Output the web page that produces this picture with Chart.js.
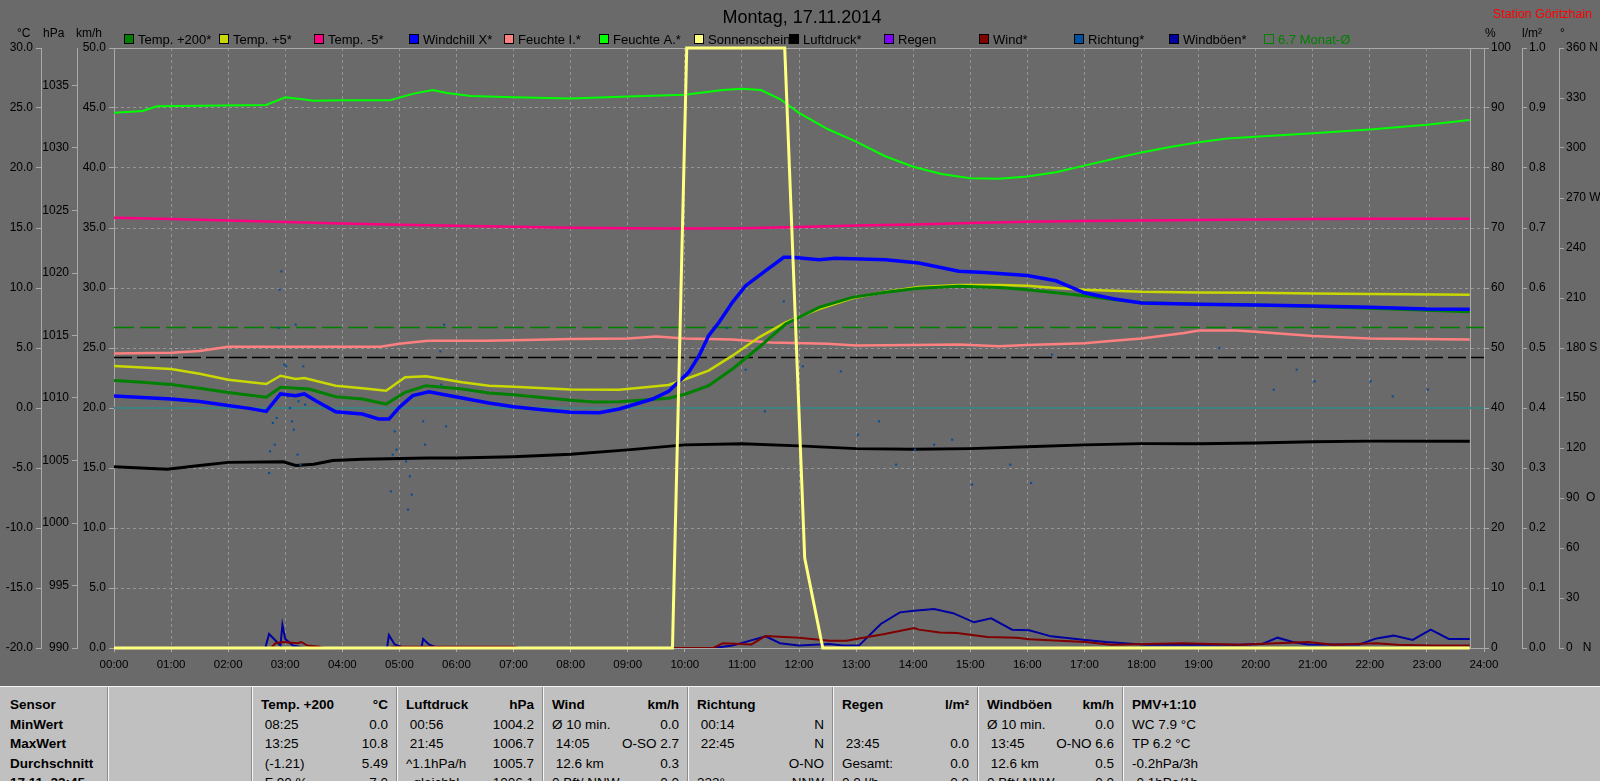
<!DOCTYPE html>
<html lang="de">
<head>
<meta charset="utf-8">
<title>Montag, 17.11.2014</title>
<script src="https://cdn.jsdelivr.net/npm/chart.js@4/dist/chart.umd.min.js"></script>
<style>
  html, body { margin: 0; padding: 0; background: #6a6a6a; }
  #wrap { position: relative; width: 1600px; height: 781px; overflow: hidden; }
  #chart { position: absolute; left: 0; top: 0; }
  #stats { position: absolute; left: 0; top: 686px; width: 1600px; height: 95px; background: #c0c0c0;
           border-top: 1px solid #f2f2f2; box-sizing: border-box; overflow: hidden;
           font: 13.5px "Liberation Sans", Arial, sans-serif; color: #000; }
  .col { position: absolute; top: 0; bottom: 0; padding-top: 8px; box-sizing: border-box; overflow: hidden;
         border-left: 1px solid #f6f6f6; box-shadow: -1px 0 0 #8c8c8c; }
  .col.first { border-left: none; box-shadow: none; }
  .cell { display: flex; justify-content: space-between; height: 19.6px; line-height: 19.6px;
          padding: 0 9px 0 8px; white-space: pre; }
  .first .cell { padding-left: 10px; }
  .b { font-weight: bold; }
</style>
</head>
<body>
<div id="wrap">
  <canvas id="chart" width="1600" height="686"></canvas>
  <div id="stats"></div>
</div>
<script>
const fontFamily = '"Liberation Sans", Arial, sans-serif';

// ---- values (times HH:MM) ----
const temp200Times = ['00:00','00:30','01:00','01:30','02:00','02:40','02:55','03:25','03:53','04:21','04:46','05:06','05:28','06:06','06:34','07:00','08:00','08:25','08:51','09:43','10:01','10:25','10:50','11:18','11:46','12:21','12:56','13:31','14:06','14:48','15:30','16:00','16:30','17:00','17:30','18:00','19:00','20:00','21:00','22:00','23:00','23:45'];
const temp200 = [2.3,2.15,1.95,1.65,1.3,0.9,1.72,1.58,0.94,0.75,0.33,1.31,1.86,1.58,1.25,1.1,0.65,0.5,0.53,0.81,1.17,1.86,3.25,5.06,7.0,8.39,9.22,9.64,9.97,10.14,10.05,9.85,9.6,9.35,9.05,8.8,8.65,8.58,8.45,8.32,8.15,8.03];

const temp5Times = ['00:00','01:00','01:30','02:00','02:40','02:55','03:11','03:20','03:53','04:21','04:46','05:06','05:28','06:06','06:34','07:00','08:00','08:51','09:43','10:01','10:25','10:50','11:18','11:46','12:21','12:56','13:31','14:06','14:48','15:30','16:00','16:30','17:00','18:00','19:00','20:00','21:00','22:00','23:45'];
const temp5 = [3.5,3.25,2.85,2.36,2.0,2.69,2.42,2.5,1.86,1.64,1.44,2.56,2.64,2.14,1.86,1.77,1.55,1.53,1.92,2.42,3.11,4.36,5.89,7.14,8.25,9.14,9.69,10.08,10.25,10.25,10.19,10.0,9.85,9.68,9.62,9.6,9.55,9.5,9.44];

const tempM5Times = ['00:00','01:00','02:00','03:00','04:00','05:00','06:00','07:00','08:00','09:00','10:00','11:00','12:00','13:00','14:00','15:00','16:00','17:00','18:00','19:00','20:00','21:00','22:00','23:45'];
const tempM5 = [15.86,15.75,15.62,15.5,15.38,15.28,15.18,15.1,15.03,14.98,14.95,14.98,15.08,15.2,15.3,15.42,15.52,15.58,15.63,15.67,15.7,15.74,15.77,15.77];

const chillTimes = ['00:00','01:00','01:30','02:00','02:22','02:40','02:55','03:11','03:20','03:32','03:53','04:21','04:38','04:49','05:00','05:14','05:31','05:49','06:34','07:00','07:30','08:00','08:30','08:51','09:26','09:43','10:04','10:15','10:25','10:36','10:50','11:04','11:25','11:44','11:53','12:21','12:38','13:31','14:06','14:48','15:15','16:00','16:30','17:00','17:30','18:00','19:00','20:00','21:00','22:00','23:00','23:45'];
const windchill = [1.0,0.75,0.55,0.2,-0.03,-0.28,1.17,1.03,1.17,0.61,-0.31,-0.5,-0.92,-0.92,0.06,1.03,1.36,1.08,0.42,0.1,-0.15,-0.35,-0.4,-0.08,0.75,1.39,2.97,4.36,6.03,7.14,8.8,10.19,11.44,12.56,12.56,12.36,12.47,12.36,12.08,11.4,11.3,11.04,10.6,9.6,9.1,8.75,8.65,8.58,8.5,8.4,8.25,8.22];

const humInTimes = ['00:00','01:00','01:30','02:00','04:40','05:00','05:30','06:30','07:00','08:00','09:00','09:30','10:00','10:50','11:30','12:30','13:00','14:00','14:48','15:30','16:00','17:00','17:30','18:00','18:45','19:00','19:40','20:00','21:00','22:00','23:45'];
const humIn = [49.1,49.2,49.5,50.2,50.2,50.7,51.2,51.2,51.3,51.5,51.6,51.9,51.6,51.4,50.9,50.7,50.4,50.5,50.6,50.3,50.5,50.8,51.2,51.6,52.5,52.9,52.9,52.7,52.0,51.6,51.4];

const humOutTimes = ['00:00','00:30','00:45','02:40','03:00','03:20','03:30','04:00','04:50','05:15','05:35','05:50','06:15','07:00','08:00','09:00','10:00','10:40','11:00','11:20','11:40','12:00','12:30','13:00','13:30','14:00','14:30','15:00','15:30','16:00','16:30','17:00','17:30','18:00','18:30','19:00','19:30','20:00','21:00','22:00','23:00','23:45'];
const humOut = [89.2,89.5,90.3,90.5,91.8,91.4,91.2,91.3,91.3,92.4,93.0,92.5,92.0,91.8,91.6,91.9,92.2,93.0,93.2,93.0,91.5,89.2,86.5,84.4,82.0,80.2,79.0,78.3,78.2,78.6,79.3,80.4,81.5,82.6,83.5,84.3,84.9,85.2,85.8,86.4,87.2,88.0];

const sunTimes = ['00:00','09:47','10:02','11:45','12:06','12:25','23:45'];
const sunshine = [0,0,100,100,15,0,0];

const pressTimes = ['00:00','00:56','01:30','02:00','02:58','03:11','03:30','03:50','04:21','05:30','06:00','07:00','08:00','09:00','10:00','11:00','12:00','13:00','14:00','15:00','16:00','17:00','18:00','19:00','20:00','21:00','22:00','23:45'];
const pressure = [1004.5,1004.3,1004.6,1004.85,1004.9,1004.6,1004.7,1005.0,1005.1,1005.2,1005.2,1005.3,1005.5,1005.85,1006.25,1006.33,1006.17,1005.95,1005.9,1005.95,1006.1,1006.25,1006.35,1006.35,1006.4,1006.5,1006.55,1006.55];

const rainTimes = [];
const rain = [];

const windTimes = ['00:00','02:45','02:50','02:58','03:13','03:17','03:23','03:36','03:40','04:50','04:52','07:00','07:05','10:30','10:40','11:10','11:25','12:00','12:32','12:50','13:06','13:30','14:01','14:06','14:28','14:46','15:18','15:49','16:02','16:34','17:01','17:28','18:44','19:43','20:55','21:22','22:07','22:29','23:06','23:45'];
const wind = [0,0,0.42,0.5,0.4,0.5,0.2,0.1,0,0,0.1,0.1,0,0,0.4,0.3,1.0,0.85,0.6,0.6,0.83,1.17,1.67,1.53,1.3,1.25,0.92,0.86,0.72,0.6,0.5,0.28,0.4,0.28,0.5,0.28,0.4,0.28,0.2,0.2];

const dirTimes = ['02:43','02:44','02:47','02:49','02:51','02:53','02:54','02:56','02:59','03:01','03:03','03:05','03:07','03:09','03:11','03:13','03:14','03:16','03:19','03:21','04:51','04:53','04:55','04:57','05:07','05:09','05:11','05:13','05:25','05:27','05:43','05:44','05:47','05:49','10:44','11:04','11:24','11:44','12:04','12:44','13:02','13:24','13:42','14:02','14:22','14:41','15:02','15:42','16:04','16:26','19:22','20:19','20:43','21:02','22:01','22:24','23:01'];
const direction = [105,118,135,122,138,192,215,226,170,169,151,144,136,131,194,116,148,110,169,146,94,116,130,119,112,83,103,92,136,122,178,158,194,133,192,167,142,208,169,166,128,136,110,119,122,125,98,110,99,176,180,155,167,160,160,151,155];

const gustTimes = ['00:00','02:39','02:43','02:50','02:55','02:57','03:00','03:08','03:21','04:47','04:49','04:55','05:02','05:23','05:25','05:31','05:40','10:30','10:50','11:25','11:40','12:00','12:32','12:46','13:03','13:26','13:46','14:01','14:22','14:42','15:04','15:22','15:44','16:02','16:25','17:01','17:23','18:04','19:43','20:07','20:23','20:39','20:55','21:49','22:07','22:25','22:45','23:04','23:23','23:45'];
const gusts = [0,0,1.17,0.6,0.2,1.92,0.75,0.2,0,0,1.08,0.3,0.1,0,0.75,0.3,0,0,0.2,0.97,0.4,0.2,0.33,0.2,0.2,2.0,2.97,3.1,3.25,2.9,2.14,2.47,1.53,1.47,0.97,0.67,0.5,0.28,0.28,0.33,0.86,0.5,0.3,0.3,0.8,1.03,0.67,1.53,0.75,0.75];

const monthMean = 6.7;      // °C
const normPressure = 1013.25; // hPa
const frostLine = 0;        // °C
const nowTime = '23:45';

const hourTicks = { min: 0, max: 24, step: 1 };
const compass = { 0: '   N', 90: '  O', 180: ' S', 270: ' W', 360: ' N' };

// ---- helpers ----
const axisGray = '#a9a9a9';
const gridGray = '#969696';

function toHours(t) {
  const [h, m] = t.split(':').map(Number);
  return h + m / 60;
}
function series(times, values) {
  return times.map((t, i) => ({ x: toHours(t), y: values[i] }));
}
function flat(value) {
  return [{ x: hourTicks.min, y: value }, { x: hourTicks.max, y: value }];
}
function line(label, color, width, axis, data, order, extra) {
  return Object.assign({
    label, legendColor: color, borderColor: color, backgroundColor: color,
    borderWidth: width, yAxisID: axis, data, order,
    pointRadius: 0, tension: 0, fill: false
  }, extra || {});
}
function sideAxis(position, weight, width, min, max, step, fmt, chartGrid) {
  return {
    type: 'linear', position, weight, min, max,
    afterFit: s => { s.width = width; },
    border: { color: axisGray, dash: chartGrid ? [3, 3] : [] },
    grid: { drawOnChartArea: !!chartGrid, color: gridGray, tickColor: axisGray, tickLength: 5 },
    ticks: { stepSize: step, includeBounds: false, callback: fmt, padding: position === 'left' ? 3 : 2, color: '#000', font: { size: 12 } }
  };
}

const datasets = [
  line('Temp. +200*', '#008000', 3, 'yT', series(temp200Times, temp200), 2),
  line('Temp. +5*', '#c8d800', 2.5, 'yT', series(temp5Times, temp5), 3),
  line('Temp. -5*', '#ff0080', 2.5, 'yT', series(tempM5Times, tempM5), 10),
  line('Windchill X*', '#0000ff', 3.5, 'yT', series(chillTimes, windchill), 1),
  line('Feuchte I.*', '#ff8080', 2.5, 'yH', series(humInTimes, humIn), 8),
  line('Feuchte A.*', '#00ff00', 2, 'yH', series(humOutTimes, humOut), 9),
  line('Sonnenschein', '#ffff80', 3, 'yH', series(sunTimes, sunshine), 0, { clip: 4 }),
  line('Luftdruck*', '#000000', 3, 'yP', series(pressTimes, pressure), 7),
  line('Regen', '#8000ff', 2, 'yR', series(rainTimes, rain), 6),
  line('Wind*', '#800000', 2, 'yK', series(windTimes, wind), 4),
  line('Richtung*', '#0a4f93', 0, 'yD', series(dirTimes, direction), 6,
       { showLine: false, pointRadius: 1.5, pointStyle: 'rect', pointBorderWidth: 0, legendColor: '#0050a0' }),
  line('Windböen*', '#0000a0', 2, 'yK', series(gustTimes, gusts), 5),
  line(monthMean + ' Monat-Ø', '#008000', 1.5, 'yT', flat(monthMean), 11,
       { borderDash: [20, 6], legendOutline: true }),
  line('', '#000000', 1.5, 'yP', flat(normPressure), 12, { borderDash: [18, 5] }),
  line('', '#408080', 2, 'yT', flat(frostLine), 13)
];

const framePlugin = {
  id: 'frame',
  beforeDatasetsDraw(chart) {
    const ctx = chart.ctx;
    const { top, bottom, left, right } = chart.chartArea;
    const nx = Math.round(chart.scales.x.getPixelForValue(toHours(nowTime))) + 0.5;
    ctx.save();
    ctx.strokeStyle = axisGray;
    ctx.lineWidth = 1;
    ctx.beginPath();
    ctx.moveTo(left, top + 0.5); ctx.lineTo(right, top + 0.5);
    ctx.moveTo(nx, top); ctx.lineTo(nx, bottom);
    ctx.stroke();
    ctx.restore();
  }
};

const headerPlugin = {
  id: 'header',
  afterDraw(chart) {
    const ctx = chart.ctx;
    ctx.save();
    ctx.textBaseline = 'middle';

    ctx.fillStyle = '#000';
    ctx.textAlign = 'center';
    ctx.font = '18px ' + fontFamily;
    ctx.fillText('Montag, 17.11.2014', 802, 18);

    ctx.fillStyle = '#ff0000';
    ctx.textAlign = 'right';
    ctx.font = '12.5px ' + fontFamily;
    ctx.fillText('Station Göritzhain', 1592, 15);

    ctx.fillStyle = '#000';
    ctx.textAlign = 'left';
    ctx.font = '12px ' + fontFamily;
    [['°C', 17], ['hPa', 43], ['km/h', 76], ['%', 1485], ['l/m²', 1522], ['°', 1560]].forEach(([t, x]) => {
      ctx.fillText(t, x, 34);
    });

    ctx.font = '13px ' + fontFamily;
    chart.data.datasets.filter(d => d.label).forEach((d, i) => {
      const lx = 124 + i * 95, ly = 39;
      ctx.lineWidth = 1;
      if (d.legendOutline) {
        ctx.strokeStyle = d.legendColor;
        ctx.strokeRect(lx + 0.5, ly - 4.5, 9, 9);
        ctx.fillStyle = d.legendColor;
      } else {
        ctx.fillStyle = d.legendColor;
        ctx.fillRect(lx, ly - 5, 10, 10);
        ctx.strokeStyle = '#000';
        ctx.strokeRect(lx + 0.5, ly - 4.5, 9, 9);
        ctx.fillStyle = '#000';
      }
      ctx.fillText(d.label, lx + 14, ly + 1);
    });
    ctx.restore();
  }
};

Chart.defaults.font.family = fontFamily;
Chart.defaults.color = '#000';

new Chart(document.getElementById('chart').getContext('2d'), {
  type: 'line',
  data: { datasets },
  options: {
    responsive: false,
    devicePixelRatio: 1,
    animation: false,
    layout: { padding: { top: 48, left: 0, right: 0, bottom: 0 } },
    plugins: { legend: { display: false }, tooltip: { enabled: false } },
    scales: {
      x: {
        type: 'linear', min: hourTicks.min, max: hourTicks.max,
        afterFit: s => { s.height = 38; },
        border: { color: axisGray, dash: [3, 3] },
        grid: { color: gridGray, tickColor: axisGray, tickLength: 4 },
        ticks: {
          stepSize: hourTicks.step, autoSkip: false, maxRotation: 0, padding: 6,
          font: { size: 11.5 },
          callback: v => String(v).padStart(2, '0') + ':00'
        }
      },
      yT: sideAxis('left', 3, 41, -20, 30, 5, v => v.toFixed(1)),
      yP: sideAxis('left', 2, 36, 990, 1038, 5, v => String(v)),
      yK: sideAxis('left', 1, 37, 0, 50, 5, v => v.toFixed(1), true),
      yH: sideAxis('right', 1, 38, 0, 100, 10, v => String(v)),
      yR: sideAxis('right', 2, 37, 0, 1, 0.1, v => v.toFixed(1)),
      yD: sideAxis('right', 3, 41, 0, 360, 30, v => v + (compass[v] || ''))
    }
  },
  plugins: [framePlugin, headerPlugin]
});

// ---- statistics table under the chart ----
const colLeft = [0, 108, 252, 397, 543, 688, 833, 978, 1123, 1600];
const statRows = [
  ['Sensor', ['', ''], ['Temp. +200', '°C'], ['Luftdruck', 'hPa'], ['Wind', 'km/h'], ['Richtung', ''], ['Regen', 'l/m²'], ['Windböen', 'km/h'], ['PMV+1:10', '']],
  ['MinWert', ['', ''], [' 08:25', '0.0'], [' 00:56', '1004.2'], ['Ø 10 min.', '0.0'], [' 00:14', 'N'], ['', ''], ['Ø 10 min.', '0.0'], ['WC 7.9 °C', '']],
  ['MaxWert', ['', ''], [' 13:25', '10.8'], [' 21:45', '1006.7'], [' 14:05', 'O-SO 2.7'], [' 22:45', 'N'], [' 23:45', '0.0'], [' 13:45', 'O-NO 6.6'], ['TP 6.2 °C', '']],
  ['Durchschnitt', ['', ''], [' (-1.21)', '5.49'], ['^1.1hPa/h', '1005.7'], [' 12.6 km', '0.3'], ['', 'O-NO'], ['Gesamt:', '0.0'], [' 12.6 km', '0.5'], ['-0.2hPa/3h', '']],
  ['17.11. 23:45', ['', ''], [' F 90 %', '7.0'], ['  gleichbl.', '1006.1'], ['0 Bft/ NNW', '0.0'], ['333°', 'NNW'], ['0.0 l/h', '0.0'], ['0 Bft/ NNW', '0.0'], ['-0.1hPa/1h', '']]
];
const stats = document.getElementById('stats');
for (let c = 0; c < colLeft.length - 1; c++) {
  const col = document.createElement('div');
  col.className = 'col' + (c === 0 ? ' first' : '');
  col.style.left = colLeft[c] + 'px';
  col.style.width = (colLeft[c + 1] - colLeft[c]) + 'px';
  statRows.forEach((row, r) => {
    const cell = document.createElement('div');
    cell.className = 'cell';
    const pair = c === 0 ? [row[0], ''] : row[c];
    const a = document.createElement('span');
    const b = document.createElement('span');
    a.textContent = pair[0];
    b.textContent = pair[1];
    if (r === 0 || c === 0) { a.className = 'b'; b.className = 'b'; }
    cell.appendChild(a); cell.appendChild(b);
    col.appendChild(cell);
  });
  stats.appendChild(col);
}
</script>
</body>
</html>
